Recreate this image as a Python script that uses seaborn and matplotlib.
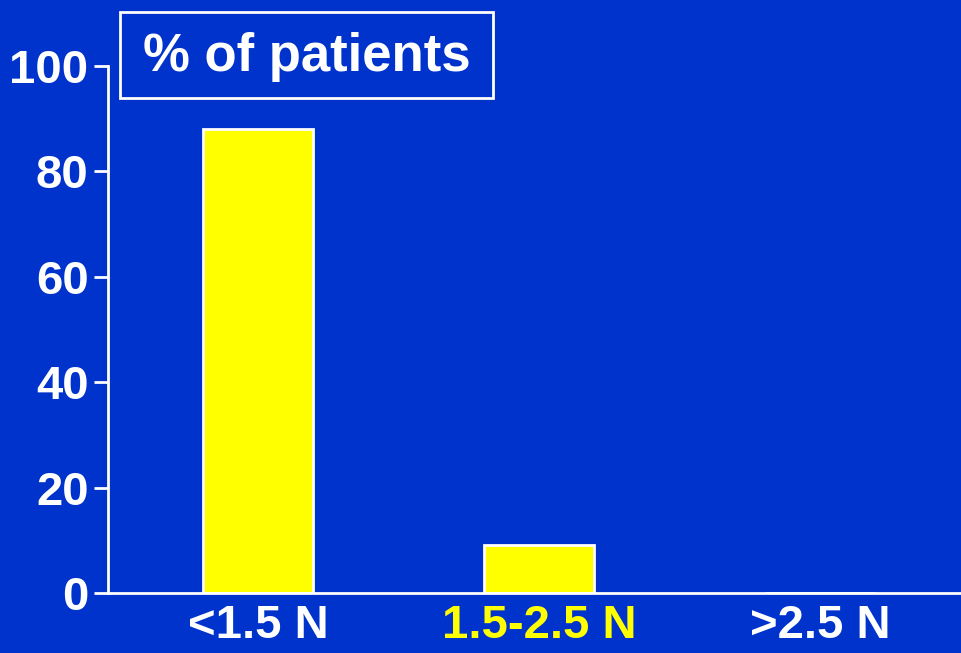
import matplotlib
matplotlib.use("Agg")
import matplotlib.pyplot as plt
import matplotlib.patches as mpatches
import seaborn as sns
import pandas as pd

categories = ["<1.5 N", "1.5-2.5 N", ">2.5 N"]
values = [88, 9.2, 0]
yticks = [0, 20, 40, 60, 80, 100]
title = "% of patients"

BG = "#0033CC"
YEL = "#FFFF00"

sns.set_theme(style="white")
plt.rcParams["font.family"] = ["Liberation Sans", "DejaVu Sans"]
plt.rcParams["font.weight"] = "bold"

df = pd.DataFrame({"cat": categories, "val": values})

fig = plt.figure(figsize=(9.62, 6.53), dpi=100, facecolor=BG)
ax = fig.add_axes([108 / 962, 60 / 653, 1 - 108 / 962, (593 - 66) / 653])
ax.set_facecolor(BG)

sns.barplot(data=df, x="cat", y="val", color=YEL, saturation=1,
            edgecolor="white", linewidth=2, width=0.39, ax=ax)

ax.set_xlim(-0.534, 2.505)
ax.set_ylim(0, 100)
ax.set_yticks(yticks)
ax.set_yticklabels([str(t) for t in yticks])
ax.set_xlabel("")
ax.set_ylabel("")

for s in ["top", "right"]:
    ax.spines[s].set_visible(False)
for s in ["left", "bottom"]:
    ax.spines[s].set_color("white")
    ax.spines[s].set_linewidth(2)

ax.tick_params(axis="y", colors="white", length=10, width=2, direction="out",
               labelsize=34, pad=4, left=True)
ax.tick_params(axis="x", colors="white", length=0, labelsize=34, pad=8)
for lab in ax.get_yticklabels() + ax.get_xticklabels():
    lab.set_fontweight("bold")
ax.get_xticklabels()[1].set_color(YEL)

# title box
rect = mpatches.Rectangle((120 / 962, 1 - 98 / 653), (493 - 120) / 962, 86 / 653,
                          transform=fig.transFigure, facecolor="none",
                          edgecolor="white", linewidth=2)
fig.patches.append(rect)
fig.text(306.5 / 962, 1 - 57 / 653, title, ha="center", va="center",
         color="white", fontsize=38, fontweight="bold")

fig.savefig("out.png", dpi=100, facecolor=BG)
